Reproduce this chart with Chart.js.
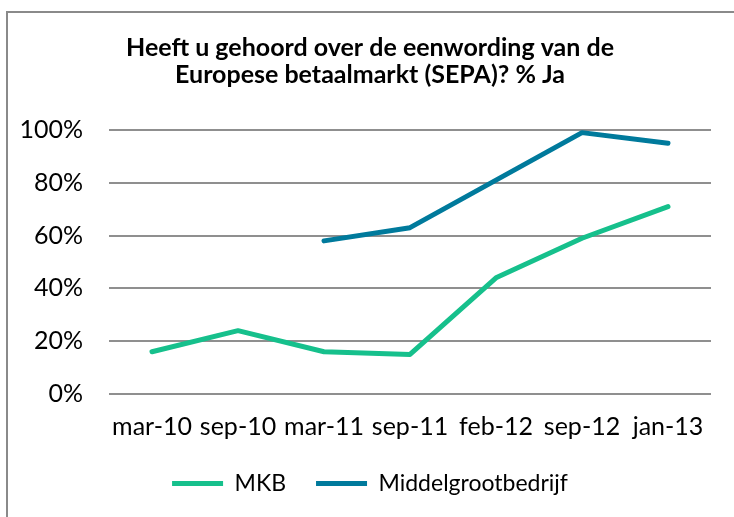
<!DOCTYPE html>
<html>
<head>
<meta charset="utf-8">
<script src="https://cdn.jsdelivr.net/npm/chart.js@4/dist/chart.umd.min.js"></script>
<style>
  html, body { margin: 0; padding: 0; background: #ffffff; overflow: hidden; }
  #frame { position: absolute; left: 6px; top: 11px; width: 900px; height: 700px; border: 2px solid #8a8a8a; box-sizing: border-box; }
  #wrap { position: absolute; left: 0; top: 0; width: 734px; height: 517px; }
</style>
</head>
<body>
<div id="frame"></div>
<div id="wrap"><canvas id="c" width="734" height="517"></canvas></div>
<script>
const categories = ["mar-10", "sep-10", "mar-11", "sep-11", "feb-12", "sep-12", "jan-13"];
const mkbValues = [16, 24, 16, 15, 44, 59, 71];
const middelgrootValues = [null, null, 58, 63, 81, 99, 95];
const seriesNames = ["MKB", "Middelgrootbedrijf"];
const titleLines = ["Heeft u gehoord over de eenwording van de", "Europese betaalmarkt (SEPA)? % Ja"];
const yTicks = [0, 20, 40, 60, 80, 100];

const GREEN = "#16C08C";
const BLUE = "#007A9C";

new Chart(document.getElementById("c"), {
  type: "line",
  data: {
    labels: categories,
    datasets: [
      {
        label: seriesNames[0],
        data: mkbValues,
        borderColor: GREEN,
        backgroundColor: GREEN,
        borderWidth: 5,
        pointRadius: 0,
        pointHoverRadius: 0,
        tension: 0,
        borderCapStyle: "round",
        borderJoinStyle: "round",
        pointStyle: "line"
      },
      {
        label: seriesNames[1],
        data: middelgrootValues,
        borderColor: BLUE,
        backgroundColor: BLUE,
        borderWidth: 5,
        pointRadius: 0,
        pointHoverRadius: 0,
        tension: 0,
        borderCapStyle: "round",
        borderJoinStyle: "round",
        pointStyle: "line"
      }
    ]
  },
  options: {
    responsive: false,
    animation: false,
    devicePixelRatio: 1,
    layout: { padding: { left: 6, right: 0, top: 0, bottom: 12 } },
    plugins: {
      tooltip: { enabled: false },
      title: {
        display: true,
        text: titleLines,
        color: "#000000",
        font: { family: "Lato", size: 25, weight: "bold", lineHeight: 1.08 },
        padding: { top: 34, bottom: 42 }
      },
      legend: {
        display: true,
        position: "bottom",
        labels: {
          color: "#000000",
          font: { family: "Lato", size: 23 },
          usePointStyle: true,
          pointStyleWidth: 51,
          boxHeight: 23,
          padding: 30
        }
      }
    },
    scales: {
      x: {
        type: "category",
        offset: true,
        grid: { display: false, drawTicks: false },
        border: { display: false },
        ticks: { color: "#000000", font: { family: "Lato", size: 25 }, padding: 18, maxRotation: 0, autoSkip: false },
        afterFit: (s) => { s.height = 48; }
      },
      y: {
        min: 0,
        max: 100,
        afterBuildTicks: (s) => { s.ticks = yTicks.map(v => ({ value: v })); },
        grid: { color: "#8f8f8f", lineWidth: 2, drawTicks: false },
        border: { display: false },
        ticks: {
          color: "#000000",
          font: { family: "Lato", size: 25 },
          padding: 26,
          callback: (v) => v + "%"
        },
        afterFit: (s) => { s.width = 103; }
      },
      yRight: {
        type: "linear",
        position: "right",
        display: true,
        grid: { display: false, drawTicks: false },
        border: { display: false },
        ticks: { display: false },
        afterFit: (s) => { s.width = 23; }
      }
    }
  }
});
</script>
</body>
</html>
